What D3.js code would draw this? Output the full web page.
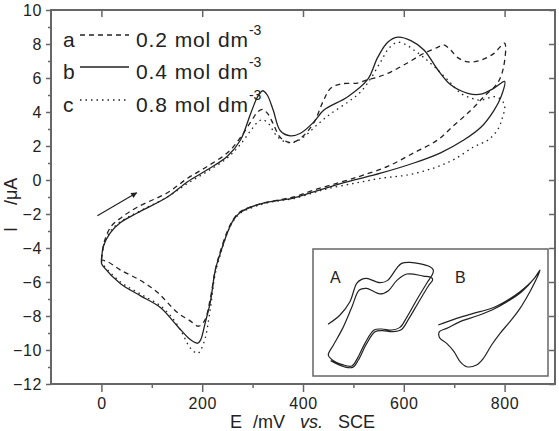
<!DOCTYPE html>
<html>
<head>
<meta charset="utf-8">
<script src="https://cdn.jsdelivr.net/npm/d3@7"></script>
<style>
  body { margin: 0; background: #fff; }
  svg { font-family: Arial, "Liberation Sans", Helvetica, sans-serif; }
</style>
</head>
<body>
<div id="chart"></div>
<script>
// curve a: 0.2 mol dm-3 (dashed) - [E /mV, I /uA] in scan order
const curveA = [
    [0, -4.7], [6, -3.6], [20, -2.7], [40, -2.2], [71, -1.6], [131, -0.75], [171, 0.1], [210, 0.8],
    [250, 1.6], [276, 2.5], [296, 3.4], [310, 4.0], [320, 4.15], [330, 3.9], [341, 3.3], [355, 2.5],
    [375, 2.2], [395, 2.45], [421, 3.35], [441, 4.7], [455, 5.4], [475, 5.65], [508, 5.7], [528, 5.9],
    [548, 6.05], [574, 6.35], [608, 6.9], [640, 7.45], [667, 7.8], [679, 7.95], [693, 7.65], [707, 7.2],
    [727, 6.95], [753, 7.05], [779, 7.45], [800, 8.05],
    [798, 6.65], [786, 5.7], [759, 4.9], [733, 4.1], [699, 3.2], [667, 2.35], [620, 1.6], [568, 0.8],
    [521, 0.3], [489, 0.0], [421, -0.6], [381, -1.0], [356, -1.15], [316, -1.4], [276, -1.85], [262, -2.3],
    [250, -3.0], [236, -4.2], [226, -5.3], [216, -7.0], [206, -8.2], [197, -8.55], [191, -8.6], [177, -8.3],
    [151, -7.8], [111, -6.6], [77, -5.9], [38, -5.3], [12, -4.8], [0, -4.7]
];

// curve b: 0.4 mol dm-3 (solid)
const curveB = [
    [0, -4.9], [4, -3.9], [18, -3.1], [38, -2.5], [71, -1.94], [131, -1.0], [171, -0.1], [210, 0.6],
    [250, 1.4], [276, 2.35], [296, 3.9], [310, 4.9], [320, 5.25], [329, 5.0], [341, 4.1], [355, 2.9],
    [375, 2.6], [395, 2.75], [421, 3.4], [441, 4.1], [489, 4.9], [528, 5.9], [548, 7.2], [568, 8.1],
    [588, 8.4], [614, 8.2], [640, 7.65], [667, 6.5], [693, 5.6], [727, 5.1], [753, 5.05], [779, 5.4], [800, 5.8],
    [793, 4.9], [779, 4.1], [753, 3.1], [719, 2.35], [673, 1.6], [620, 1.0], [554, 0.4], [489, -0.1],
    [421, -0.7], [381, -1.06], [356, -1.18], [316, -1.4], [276, -1.9], [262, -2.35], [250, -3.1], [236, -4.3],
    [226, -5.3], [216, -7.2], [206, -8.4], [197, -9.4], [191, -9.6], [177, -9.4], [151, -8.6], [117, -7.5],
    [77, -6.8], [38, -6.1], [4, -5.1], [0, -4.9]
];

// curve c: 0.8 mol dm-3 (dotted)
const curveC = [
    [0, -4.8], [5, -3.8], [18, -3.0], [38, -2.45], [71, -1.9], [131, -1.0], [171, -0.2], [210, 0.5],
    [250, 1.3], [276, 2.1], [296, 2.9], [310, 3.4], [320, 3.55], [332, 3.3], [345, 2.7], [360, 2.3],
    [379, 2.2], [400, 2.5], [430, 3.3], [455, 3.9], [490, 4.6], [515, 5.2], [535, 6.0], [554, 6.95],
    [572, 7.8], [588, 8.1], [605, 7.95], [622, 7.6], [640, 7.2], [661, 6.65], [690, 5.8], [713, 5.1],
    [735, 4.8], [753, 4.7], [779, 4.9], [790, 4.8], [800, 4.4],
    [795, 3.6], [786, 2.95], [767, 2.35], [739, 1.95], [699, 1.2], [659, 0.7], [608, 0.3], [554, 0.1],
    [501, -0.2], [450, -0.5], [421, -0.75], [381, -1.1], [356, -1.2], [316, -1.45], [276, -1.95], [262, -2.4],
    [250, -3.1], [236, -4.4], [226, -5.5], [216, -7.6], [206, -9.3], [197, -10.0], [191, -10.2], [177, -9.9],
    [160, -9.0], [143, -8.2], [117, -7.4], [77, -6.7], [38, -6.0], [4, -5.0], [0, -4.8]
];

const series = [
    { key: 'a', label: '0.2 mol dm', data: curveA, dash: '5,4' },
    { key: 'b', label: '0.4 mol dm', data: curveB, dash: null },
    { key: 'c', label: '0.8 mol dm', data: curveC, dash: '1.5,4' }
];

// scan direction arrow, [E, I]
const arrowPts = [[-8, -2.1], [70, -0.75]];

// inset traces in arbitrary units (0-100 both ways)
const insetA = [
    [6.4, 40.7], [11.5, 48.0], [15.7, 58.5], [18.6, 73.0], [20.7, 76.1], [22.8, 76.9], [28.5, 73.5],
    [31.6, 75.1], [35.6, 84.8], [37.7, 88.7], [41.3, 89.5], [49.8, 86.1], [51.2, 83.5], [50.9, 80.3],
    [48.4, 73.0], [44.1, 59.8], [39.9, 46.2], [37.0, 38.3], [33.5, 36.2], [29.2, 37.0], [26.0, 36.2],
    [22.1, 25.7], [18.9, 13.9], [16.5, 7.9], [12.9, 8.7], [7.9, 13.1], [6.5, 16.5], [8.7, 24.4],
    [12.6, 37.5], [16.5, 54.1], [19.7, 67.7], [22.8, 69.0], [28.5, 64.6], [32.1, 67.2], [35.6, 75.1],
    [39.9, 80.3], [47.0, 78.7], [50.5, 77.4], [50.9, 75.6], [49.1, 70.9], [44.8, 57.7], [40.6, 44.6],
    [37.7, 36.7], [33.9, 34.9], [29.6, 35.7], [26.4, 34.9], [22.5, 24.4], [19.3, 12.6], [16.9, 6.8],
    [13.2, 7.3], [7.5, 12.1]
];
const insetB = [
    [53.3, 40.2], [61.1, 45.4], [68.2, 49.3], [76.0, 53.3], [82.4, 59.3], [88.1, 66.4], [93.8, 76.1],
    [96.6, 83.5], [95.2, 76.9], [92.3, 66.4], [88.1, 53.3], [83.8, 42.8], [79.6, 33.6], [76.0, 24.4],
    [72.5, 13.9], [69.6, 8.7], [65.4, 7.3], [62.6, 11.3], [60.0, 19.2], [56.9, 25.7], [53.8, 30.4],
    [53.8, 34.9], [56.9, 37.5], [62.6, 42.8], [69.6, 47.2], [76.2, 52.0], [82.6, 58.5], [88.8, 66.4],
    [94.5, 77.7], [96.6, 83.5]
];

const xMajor = [0, 200, 400, 600, 800];
const xMinor = [100, 300, 500, 700];
const yMajor = [-12, -10, -8, -6, -4, -2, 0, 2, 4, 6, 8, 10];
const yMinor = [-11, -9, -7, -5, -3, -1, 1, 3, 5, 7, 9];

const width = 559, height = 431;
const ink = '#222';
const axisCol = '#666';

const svg = d3.select('#chart')
    .append('svg')
    .attr('width', width)
    .attr('height', height);

const x = d3.scaleLinear().domain([-100, 900]).range([51, 555]);
const y = d3.scaleLinear().domain([-12, 10]).range([384, 10]);

// main curves
const line = d3.line()
    .x(d => x(d[0]))
    .y(d => y(d[1]))
    .curve(d3.curveCatmullRom.alpha(0.5));

svg.append('g')
    .selectAll('path')
    .data(series)
    .enter()
    .append('path')
    .attr('d', d => line(d.data))
    .attr('fill', 'none')
    .attr('stroke', ink)
    .attr('stroke-width', 1.3)
    .attr('stroke-dasharray', d => d.dash);

// arrow
svg.append('defs').append('marker')
    .attr('id', 'head')
    .attr('viewBox', '0 0 10 10')
    .attr('refX', 9).attr('refY', 5)
    .attr('markerWidth', 10).attr('markerHeight', 6)
    .attr('markerUnits', 'userSpaceOnUse')
    .attr('orient', 'auto')
    .append('path')
    .attr('d', 'M0,0L10,5L0,10z')
    .attr('fill', ink);

svg.append('line')
    .attr('x1', x(arrowPts[0][0])).attr('y1', y(arrowPts[0][1]))
    .attr('x2', x(arrowPts[1][0])).attr('y2', y(arrowPts[1][1]))
    .attr('stroke', ink)
    .attr('stroke-width', 1.2)
    .attr('marker-end', 'url(#head)');

// inset box
const ix = d3.scaleLinear().domain([0, 100]).range([313, 548]);
const iy = d3.scaleLinear().domain([0, 100]).range([376, 249]);

svg.append('rect')
    .attr('x', 313).attr('y', 249)
    .attr('width', 235).attr('height', 127)
    .attr('fill', '#fff')
    .attr('stroke', axisCol)
    .attr('stroke-width', 1.5);

const insetLine = d3.line()
    .x(d => ix(d[0]))
    .y(d => iy(d[1]))
    .curve(d3.curveCatmullRom.alpha(0.5));

svg.append('g')
    .selectAll('path')
    .data([insetA, insetB])
    .enter()
    .append('path')
    .attr('d', d => insetLine(d))
    .attr('fill', 'none')
    .attr('stroke', ink)
    .attr('stroke-width', 1.2);

svg.append('text').attr('x', 330).attr('y', 283).text('A')
    .style('font-size', '16px').attr('fill', ink);
svg.append('text').attr('x', 455).attr('y', 283).text('B')
    .style('font-size', '16px').attr('fill', ink);

// axes
function styleAxis(g) {
    g.select('.domain').remove();
    g.selectAll('line').attr('stroke', axisCol).attr('stroke-width', 1.5);
    g.selectAll('text').attr('fill', ink).style('font-size', '16px').style('letter-spacing', '0.6px');
}

svg.append('g')
    .attr('transform', 'translate(0,384)')
    .call(d3.axisBottom(x).tickValues(xMajor).tickSize(8).tickPadding(6))
    .call(styleAxis);
svg.append('g')
    .attr('transform', 'translate(0,384)')
    .call(d3.axisBottom(x).tickValues(xMinor).tickSize(4).tickFormat(''))
    .call(styleAxis);
svg.append('g')
    .attr('transform', 'translate(0,10)')
    .call(d3.axisTop(x).tickValues(xMajor).tickSize(-7).tickFormat(''))
    .call(styleAxis);

svg.append('g')
    .attr('transform', 'translate(51,0)')
    .call(d3.axisLeft(y).tickValues(yMajor).tickSize(5).tickPadding(4))
    .call(styleAxis);
svg.append('g')
    .attr('transform', 'translate(51,0)')
    .call(d3.axisLeft(y).tickValues(yMinor).tickSize(3).tickFormat(''))
    .call(styleAxis);
svg.append('g')
    .attr('transform', 'translate(555,0)')
    .call(d3.axisRight(y).tickValues(yMajor).tickSize(-6).tickFormat(''))
    .call(styleAxis);

// frame
svg.append('rect')
    .attr('x', 51).attr('y', 10)
    .attr('width', 504).attr('height', 374)
    .attr('fill', 'none')
    .attr('stroke', axisCol)
    .attr('stroke-width', 2);

// axis titles
const xt = svg.append('text').attr('y', 428).attr('fill', ink).style('font-size', '18px');
xt.append('tspan').attr('x', 230).text('E');
xt.append('tspan').attr('x', 253).text('/mV');
xt.append('tspan').attr('x', 300).style('font-style', 'italic').text('vs.');
xt.append('tspan').attr('x', 338).text('SCE');

const yt = svg.append('text')
    .attr('transform', 'translate(17,232) rotate(-90)')
    .attr('fill', ink)
    .style('font-size', '18px');
yt.append('tspan').attr('x', 0).text('I');
yt.append('tspan').attr('x', 27).text('/μA');

// legend
const legend = svg.append('g')
    .selectAll('g')
    .data(series)
    .enter()
    .append('g')
    .attr('transform', (d, i) => `translate(0,${[47, 79, 112][i]})`);

legend.append('text')
    .attr('x', 63).attr('y', 0)
    .attr('fill', ink)
    .style('font-size', '21px')
    .text(d => d.key);

legend.append('line')
    .attr('x1', 80).attr('x2', 129)
    .attr('y1', -12).attr('y2', -12)
    .attr('stroke', ink)
    .attr('stroke-width', 1.3)
    .attr('stroke-dasharray', d => d.dash);

const lt = legend.append('text')
    .attr('x', 136).attr('y', 0)
    .attr('fill', ink)
    .style('font-size', '21px')
    .style('letter-spacing', '0.9px');
lt.append('tspan').text(d => d.label);
lt.append('tspan')
    .attr('dy', -12)
    .style('font-size', '14px')
    .style('letter-spacing', '0px')
    .text('-3');
</script>
</body>
</html>
